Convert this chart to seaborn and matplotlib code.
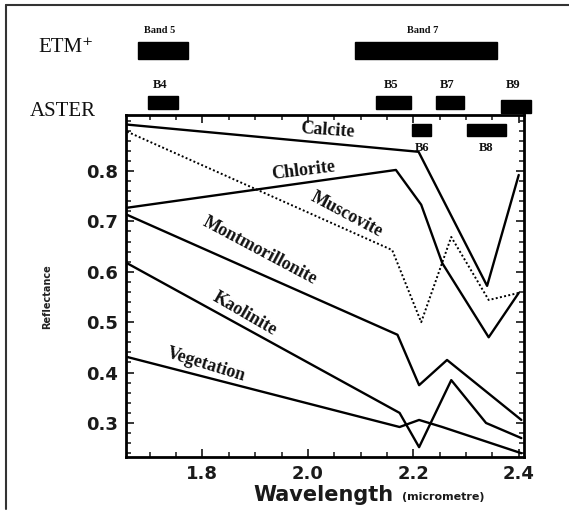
import matplotlib
matplotlib.use("Agg")
import matplotlib.pyplot as plt
import matplotlib.transforms as mtransforms
from matplotlib.patches import Rectangle
from matplotlib.ticker import MultipleLocator
import seaborn as sns
import pandas as pd

# spectra (wavelength in micrometre, reflectance)
wl_calcite = [1.657, 2.21, 2.34, 2.40]
rf_calcite = [0.892, 0.838, 0.572, 0.792]

wl_chlorite = [1.657, 2.167, 2.215, 2.255, 2.343, 2.40]
rf_chlorite = [0.727, 0.802, 0.733, 0.617, 0.470, 0.558]

wl_muscovite = [1.657, 2.16, 2.215, 2.272, 2.343, 2.40]
rf_muscovite = [0.878, 0.643, 0.500, 0.669, 0.544, 0.558]

wl_montmor = [1.657, 2.17, 2.211, 2.264, 2.405]
rf_montmor = [0.713, 0.475, 0.375, 0.425, 0.306]

wl_kaolinite = [1.657, 2.174, 2.211, 2.272, 2.338, 2.405]
rf_kaolinite = [0.617, 0.320, 0.252, 0.385, 0.300, 0.270]

wl_vegetation = [1.657, 2.174, 2.211, 2.255, 2.405]
rf_vegetation = [0.431, 0.292, 0.306, 0.292, 0.240]

# sensor bands (wavelength ranges)
etm_names = ["Band 5", "Band 7"]
etm_lo = [1.677, 2.089]
etm_hi = [1.772, 2.358]

aster_top_names = ["B4", "B5", "B7", "B9"]
aster_top_lo = [1.696, 2.130, 2.243, 2.366]
aster_top_hi = [1.753, 2.196, 2.296, 2.423]

aster_in_names = ["B6", "B8"]
aster_in_lo = [2.198, 2.302]
aster_in_hi = [2.234, 2.375]

sns.set_theme(style="ticks")
plt.rcParams["font.family"] = ["DejaVu Sans"]

fig = plt.figure(figsize=(5.69, 5.14), dpi=100)
ax = fig.add_axes([126 / 569, 57 / 514, 398 / 569, 342 / 514])

series = [
    ("Calcite", wl_calcite, rf_calcite, "-"),
    ("Chlorite", wl_chlorite, rf_chlorite, "-"),
    ("Muscovite", wl_muscovite, rf_muscovite, (0, (1, 1.2))),
    ("Montmorillonite", wl_montmor, rf_montmor, "-"),
    ("Kaolinite", wl_kaolinite, rf_kaolinite, "-"),
    ("Vegetation", wl_vegetation, rf_vegetation, "-"),
]
for name, wl, rf, ls in series:
    df = pd.DataFrame({"wl": wl, "rf": rf})
    sns.lineplot(data=df, x="wl", y="rf", ax=ax, color="black",
                 linewidth=1.7 if ls == "-" else 1.4, linestyle=ls,
                 estimator=None, sort=False)

ax.set_xlim(1.655, 2.41)
ax.set_ylim(0.2325, 0.911)
ax.xaxis.set_major_locator(MultipleLocator(0.2))
ax.xaxis.set_minor_locator(MultipleLocator(0.05))
ax.yaxis.set_major_locator(MultipleLocator(0.1))
ax.yaxis.set_minor_locator(MultipleLocator(0.02))
ax.set_xticks([1.8, 2.0, 2.2, 2.4])
ax.set_xticklabels(["1.8", "2.0", "2.2", "2.4"])
ax.set_yticks([0.3, 0.4, 0.5, 0.6, 0.7, 0.8])
ax.set_yticklabels(["0.3", "0.4", "0.5", "0.6", "0.7", "0.8"])
ax.tick_params(which="major", direction="in", length=6, width=1.3,
               top=True, right=True, labelsize=13, labelcolor="#1a1a1a", pad=6)
ax.tick_params(which="minor", direction="in", length=3.5, width=1.2,
               top=True, right=True)
for lbl in ax.get_xticklabels() + ax.get_yticklabels():
    lbl.set_fontweight("semibold")
for sp in ax.spines.values():
    sp.set_linewidth(2)
    sp.set_color("black")
ax.set_xlabel("")
ax.set_ylabel("")

# curve labels
lab_font = dict(family=["Liberation Serif", "DejaVu Serif"], fontsize=13,
                fontweight="bold", color="#111111", ha="center", va="center")
ax.text(2.038, 0.881, "Calcite", rotation=-4, **lab_font)
ax.text(1.992, 0.800, "Chlorite", rotation=7, **lab_font)
ax.text(2.074, 0.713, "Muscovite", rotation=-28, **lab_font)
ax.text(1.909, 0.641, "Montmorillonite", rotation=-28, **lab_font)
ax.text(1.881, 0.516, "Kaolinite", rotation=-30, **lab_font)
ax.text(1.808, 0.415, "Vegetation", rotation=-17, **lab_font)

# band bars
trans = mtransforms.blended_transform_factory(ax.transData, ax.transAxes)
small = dict(family=["Liberation Serif", "DejaVu Serif"],
             fontweight="bold", ha="center", va="center", color="#111111")
for nm, lo, hi in zip(etm_names, etm_lo, etm_hi):
    ax.add_patch(Rectangle((lo, 1.163), hi - lo, 0.05, transform=trans,
                           color="black", clip_on=False))
    ax.text((lo + hi) / 2 - 0.005, 1.248, nm, transform=trans, clip_on=False,
            fontsize=7.5, **small)
for nm, lo, hi in zip(aster_top_names, aster_top_lo, aster_top_hi):
    y0 = 1.006 if nm == "B9" else 1.018
    ax.add_patch(Rectangle((lo, y0), hi - lo, 0.038, transform=trans,
                           color="black", clip_on=False))
    ax.text((lo + hi) / 2 - 0.005, 1.088, nm, transform=trans, clip_on=False,
            fontsize=9, **small)
for nm, lo, hi in zip(aster_in_names, aster_in_lo, aster_in_hi):
    ax.add_patch(Rectangle((lo, 0.869), hi - lo, 0.024, color="black", clip_on=False))
    ax.text((lo + hi) / 2, 0.845, nm, fontsize=9, **small)

big = dict(family=["Liberation Serif", "DejaVu Serif"], fontsize=15,
           color="#111111", ha="center", va="center")
fig.text(66 / 569, 1 - 47 / 514, "ETM\u207a", **big)
fig.text(63 / 569, 1 - 111 / 514, "ASTER", **big)

# axis titles
fig.text(323 / 569, 1 - 495 / 514, "Wavelength", fontsize=15, fontweight="semibold",
         ha="center", va="center", color="#1a1a1a")
fig.text(443 / 569, 1 - 497 / 514, "(micrometre)", fontsize=8, fontweight="semibold",
         ha="center", va="center", color="#1a1a1a")
fig.text(47 / 569, 1 - 297 / 514, "Reflectance", fontsize=7, fontweight="bold",
         rotation=90, ha="center", va="center", color="#222222")

# outer frame
fig.add_artist(plt.Line2D([6 / 569, 6 / 569], [0.01, 1 - 5 / 514],
                          transform=fig.transFigure, color="#333333", lw=1.5))
fig.add_artist(plt.Line2D([6 / 569, 1.0], [1 - 5 / 514, 1 - 5 / 514],
                          transform=fig.transFigure, color="#333333", lw=1.5))

fig.savefig("out.png", dpi=100, facecolor="white")
